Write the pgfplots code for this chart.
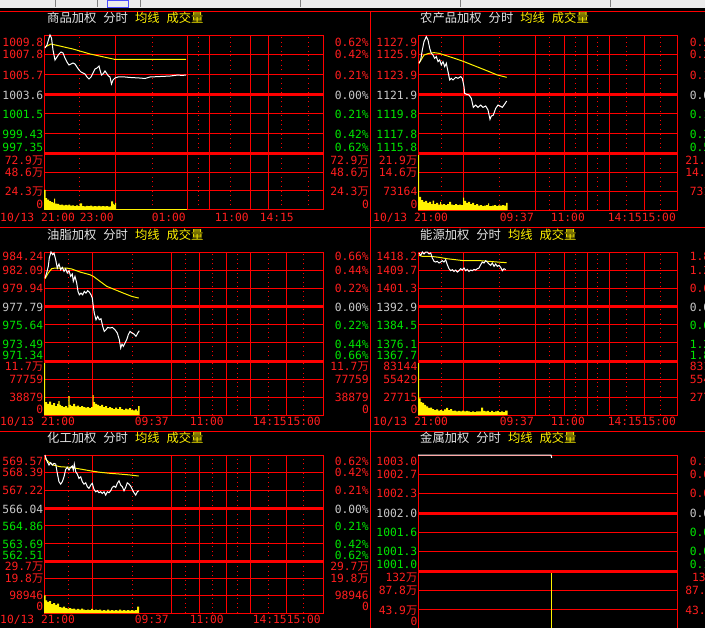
\documentclass[border=0pt]{standalone}
\usepackage{pgfplots}
\pgfplotsset{compat=1.18}
\usepackage{fontspec}
\setmainfont{DejaVu Sans Mono}
\newfontfamily\cjk{Noto Sans CJK SC}
\definecolor{gridred}{RGB}{255,0,0}
\definecolor{labred}{RGB}{255,30,30}
\definecolor{labgreen}{RGB}{0,230,0}
\definecolor{labgray}{RGB}{200,200,200}
\definecolor{titlegray}{RGB}{228,228,228}
\definecolor{tb}{RGB}{236,236,236}
\newcommand\wan{{\cjk 万}}
\pgfplotsset{
 base/.style={scale only axis, anchor=north west, clip=false,
   axis line style={gridred, line width=1bp},
   major tick length=0pt, minor tick length=0pt,
   xticklabels={}, yticklabels={}, extra y tick labels={},
   scaled x ticks=false, scaled y ticks=false,
   xmajorgrids, ymajorgrids, xminorgrids,
   major grid style={gridred, line width=1bp},
   minor grid style={gridred, line width=1bp, dash pattern=on 1bp off 3.6bp},
   extra y tick style={grid=major, major grid style={gridred, line width=3bp}}},
 L/.style={xmin=0, xmax=279, width=279bp},
 R/.style={xmin=0, xmax=259, width=259bp},
 gTL/.style={xtick={0,71,143,165,206,224,279}, minor xtick={35,108,154,186,237,264}},
 gML/.style={xtick={0,48,127,155,182,206,242,279}, minor xtick={24,88,141,168,193,224,259}},
 gR/.style={xtick={0,45,117,146,169,191,226,259}, minor xtick={23,81,131,157,179,208,242}},
 gBR/.style={xtick=\empty, minor xtick=\empty, xmajorgrids=false, xminorgrids=false},
 wline/.style={white, line width=1bp, mark=none},
 yline/.style={yellow, line width=1bp, mark=none},
 vol/.style={fill=yellow, draw=none, const plot mark left, mark=none},
}
\tikzset{lab/.style={inner sep=0pt, font=\fontsize{11.3bp}{13bp}\selectfont}}
\newcommand\lr[4]{\node[lab,anchor=base east,yshift=-4bp,text=#2] at (\XL bp,-#1bp) {#3};%
  \node[lab,anchor=base east,yshift=-4bp,text=#2] at (\XR bp,-#1bp) {#4};}
\newcommand\tl[3]{\node[lab,anchor=base east,yshift=-4bp,text=labred] at (#1bp,-#2bp) {#3};}
\newcommand\tw[3]{\node[lab,anchor=base west,yshift=-4bp,text=labred] at (#1bp,-#2bp) {#3};}
\newcommand\ttl[3]{\node[inner sep=0pt,anchor=base west,font=\cjk\fontsize{12.3bp}{14bp}\selectfont] at (#1bp,-#2bp)
  {\textcolor{titlegray}{#3}\hspace{7bp}\textcolor{titlegray}{分时}\hspace{7bp}\textcolor{yellow}{均线}\hspace{7bp}\textcolor{yellow}{成交量}};}
\begin{document}
\begin{tikzpicture}
\useasboundingbox (0,0) rectangle (705bp,-628bp);
\clip (0,0) rectangle (705bp,-628bp);
\fill[black] (0,0) rectangle (705bp,-628bp);
\fill[tb] (0,0) rectangle (705bp,-8bp);
\foreach \x in {55,97,140,300,460,610} \draw[gray] (\x bp,0) -- (\x bp,-7bp);
\draw[blue!70, line width=1bp] (107bp,-0.5bp) rectangle (128bp,-7bp);
\draw[gridred, line width=1bp] (0,-11.5bp) -- (705bp,-11.5bp);
\draw[gridred, line width=1bp] (0,-227bp) -- (705bp,-227bp);
\draw[gridred, line width=1bp] (0,-431bp) -- (705bp,-431bp);
\draw[gridred, line width=1bp] (370.5bp,-11.5bp) -- (370.5bp,-628bp);

% ===== volumes =====
\begin{axis}[base, L, gTL, at={(44bp,-153bp)}, height=57bp, ymin=0, ymax=729000, ytick={243000,486000}]
\addplot[vol] coordinates {(0,256000)(1.5,153000)(3,134000)(5,115000)(7,102000)(9,90000)(10,147000)(11,83000)(13,77000)(15,64000)(17,70000)(19,58000)(21,64000)(23,58000)(24.3,70000)(26,55000)(28,60000)(30,51000)(32,58000)(34,51000)(35.5,86000)(38,51000)(40,45000)(42,54000)(44,49000)(46,55000)(48,45000)(50,51000)(52,47000)(54,54000)(56,45000)(58,51000)(60,45000)(62,49000)(64,42000)(66,47000)(67,109000)(69,77000)(70,64000)(71,90000)(72,10000)(143,10000)(143,0)} \closedcycle;
\end{axis}
\begin{axis}[base, R, gR, at={(418bp,-153bp)}, height=57bp, ymin=0, ymax=219000, ytick={73000,146000}]
\addplot[vol] coordinates {(0,219000)(1,50000)(3,38000)(5,31000)(7,35000)(9,27000)(11,31000)(13,23000)(14.7,36000)(16,23000)(18,27000)(20,21000)(22,31000)(23,21000)(25,23000)(27,19000)(29,23000)(31,31000)(33,21000)(35,19000)(37,23000)(39,19000)(41,21000)(43,19000)(45,48000)(46,35000)(48,27000)(50,31000)(52,23000)(54,27000)(56,19000)(58,23000)(60,17000)(62,19000)(64,15000)(66,17000)(68,19000)(70,25000)(71,15000)(74,17000)(76,19000)(78,15000)(80,18000)(82,17000)(84,19000)(86,17000)(88,27000)(89.7,27000)(89.7,0)} \closedcycle;
\end{axis}
\begin{axis}[base, L, gML, at={(44bp,-361bp)}, height=54bp, ymin=0, ymax=117000, ytick={38879,77759}]
\addplot[vol] coordinates {(0,117000)(1,28000)(3,24000)(5,29000)(7,22000)(9,26000)(11,19500)(13,24000)(14.3,30000)(15.5,22000)(17,19500)(19,17000)(21,19500)(23,16000)(24.3,41000)(25.5,22000)(27,19500)(29,24000)(31,18500)(33,20500)(35,17000)(37,19500)(39,17000)(41,16000)(43,17000)(45,15000)(47,17000)(48.5,43000)(49.5,28000)(51,24000)(53,22000)(55,19500)(57,22000)(59,17000)(61,19500)(63,15000)(65,17000)(67,15000)(69,13000)(71,16000)(73,13000)(75,17000)(77,13000)(79,11000)(81,14000)(83,12000)(85,15000)(87,11000)(89,10000)(91,12000)(93,8700)(94,19500)(95.5,19500)(95.5,0)} \closedcycle;
\end{axis}
\begin{axis}[base, R, gR, at={(418bp,-361bp)}, height=54bp, ymin=0, ymax=83144, ytick={27715,55429}]
\addplot[vol] coordinates {(0,83144)(1,25700)(2.5,20000)(4,18500)(6,15400)(8,13100)(10,10800)(12,11500)(14,9200)(16,7700)(18,8500)(20,6900)(22,7700)(24,6200)(26,8500)(28,10800)(30,7700)(32,9200)(34,6200)(36,6900)(38,5400)(40,6200)(42,5400)(44,6900)(46,5400)(48,6200)(50,5400)(52,4600)(54,5400)(56,4600)(58,5400)(60,5400)(62,5400)(63,11500)(65,6200)(67,5400)(69,6200)(71,4600)(73,6200)(75,4600)(77,5400)(79,6200)(81,4600)(83,5400)(85,4600)(87,6900)(89.5,6900)(89.5,0)} \closedcycle;
\end{axis}
\begin{axis}[base, L, gML, at={(44bp,-561bp)}, height=52bp, ymin=0, ymax=297000, ytick={98946,198000}]
\addplot[vol] coordinates {(0,101000)(1.5,72500)(3,63000)(5,68500)(7,51000)(9,57000)(11,47000)(13,54000)(15,34000)(17,31000)(19,37000)(21,28500)(23,25700)(25,28500)(27,23000)(29,25700)(31,20000)(33,23000)(35,20000)(37,25700)(39,20000)(41,17000)(43,20000)(45,17000)(47,23000)(49,17000)(51,20000)(53,17000)(55,20000)(57,14300)(59,17000)(61,14300)(63,20000)(65,14300)(67,17000)(69,14300)(71,17000)(73,14300)(75,20000)(77,14300)(79,17000)(81,14300)(83,17000)(85,14300)(87,17000)(89,14300)(91,17000)(93,37000)(95,37000)(95,0)} \closedcycle;
\end{axis}
\begin{axis}[base, R, gBR, at={(418bp,-571bp)}, height=57bp, ymin=0, ymax=1320000, ytick={439000,878000}]
\addplot[yellow, line width=1bp, ycomb, mark=none] coordinates {(133.7,1320000)};
\end{axis}

% ===== prices =====
\begin{axis}[base, L, gTL, at={(44bp,-35bp)}, height=118bp, ymin=997.35, ymax=1009.8,
  ytick={999.425,1001.5,1005.65,1007.725}, extra y ticks={997.35,1003.575}]
\addplot[yline] coordinates {(1,1008.53)(7,1008.85)(29,1008.32)(46,1007.80)(69,1007.27)(71,1007.22)(142,1007.22)};
\addplot[wline] coordinates {(1,1008.43)(3,1008.75)(5,1009.48)(6,1009.8)(7.5,1009.48)(9,1008.22)(11,1007.16)(13,1007.48)(15,1007.80)(17,1008.01)(19,1007.90)(21,1007.37)(23,1006.95)(25,1006.63)(27,1006.74)(29,1006.85)(31,1006.74)(33,1006.42)(35,1006.11)(37,1005.90)(39,1005.79)(41,1005.69)(43,1005.37)(45,1005.16)(47,1005.37)(49,1005.79)(51,1006.21)(53,1006.32)(55,1006.53)(56,1006.11)(57.5,1005.58)(59,1005.69)(61,1006.00)(63,1005.69)(64.5,1005.47)(66,1005.37)(67.5,1004.63)(69,1005.05)(71,1005.26)(74,1005.37)(81,1005.37)(86,1005.32)(96,1005.26)(101,1005.21)(106,1005.37)(116,1005.42)(126,1005.47)(134,1005.58)(138,1005.53)(142,1005.58)};
\end{axis}
\begin{axis}[base, R, gR, at={(418bp,-35bp)}, height=118bp, ymin=1115.8, ymax=1127.9,
  ytick={1117.817,1119.833,1123.867,1125.883}, extra y ticks={1115.8,1121.85}]
\addplot[yline] coordinates {(1,1125.0)(6,1125.85)(11,1126.02)(16,1126.09)(21,1126.02)(29.3,1125.75)(39.3,1125.41)(46,1125.17)(54.3,1124.83)(62.7,1124.49)(71,1124.15)(79.3,1123.80)(88.7,1123.56)};
\addplot[wline] coordinates {(1,1125.0)(2.7,1125.34)(4.3,1126.36)(6,1127.22)(8.3,1127.73)(10,1127.39)(11.7,1126.54)(13.3,1126.02)(15,1125.85)(16.7,1125.51)(18.3,1125.68)(20,1125.17)(21.7,1125.34)(23.3,1124.83)(25,1125.17)(26.7,1124.66)(28.3,1125.0)(30,1124.15)(31.7,1123.29)(33.3,1123.46)(35,1123.29)(37.7,1123.56)(40,1123.46)(42.7,1123.63)(44.3,1123.46)(46,1122.61)(46.7,1121.92)(48.7,1121.82)(51,1121.75)(53.3,1121.41)(55.3,1120.48)(57.7,1120.72)(60,1120.48)(62.7,1120.72)(65,1120.48)(67.7,1120.62)(70,1120.21)(72,1119.25)(73.3,1119.59)(75.3,1119.69)(77.7,1120.38)(80,1120.72)(82,1120.62)(84.3,1120.48)(86.7,1120.82)(88.7,1121.13)};
\end{axis}
\begin{axis}[base, L, gML, at={(44bp,-252bp)}, height=109bp, ymin=971.34, ymax=984.24,
  ytick={973.49,975.64,979.94,982.09}, extra y ticks={971.34,977.79}]
\addplot[yline] coordinates {(1,981.08)(4.3,981.76)(7.7,982.27)(11,982.34)(16,982.34)(22.7,982.34)(27.7,982.23)(36,981.87)(46,981.55)(49.3,981.36)(56,980.77)(62.7,980.18)(71,979.78)(79.3,979.38)(87.7,978.99)(94.7,978.79)};
\addplot[wline] coordinates {(1,981.16)(2.7,981.76)(4.3,982.55)(5.3,983.53)(7,984.24)(8.7,983.92)(10,984.12)(11.7,983.33)(13.3,982.34)(15,982.82)(16.7,982.14)(18.3,982.42)(20,981.95)(21.7,982.26)(23.3,981.76)(25,982.03)(26.7,981.36)(28.3,981.64)(29.3,980.77)(31,981.36)(32.7,980.57)(34,979.58)(35.3,979.18)(37,979.38)(38.7,979.18)(40.3,979.58)(42,979.38)(43.7,979.66)(45.3,979.50)(47,979.18)(48.3,978.79)(49.3,977.80)(50.3,977.01)(52,976.22)(53.7,976.62)(55.3,976.22)(57,976.34)(58.7,975.44)(60.3,974.84)(62,975.04)(63.7,975.32)(66,975.24)(68.3,975.32)(71,975.04)(73.3,974.65)(75.3,973.86)(76.7,972.87)(78,973.34)(79.3,973.07)(81,973.46)(82.7,973.86)(84.3,974.45)(86,974.84)(88,974.65)(90,974.53)(92,974.26)(93.7,974.65)(95.3,974.92)};
\end{axis}
\begin{axis}[base, R, gR, at={(418bp,-252bp)}, height=109bp, ymin=1367.7, ymax=1418.2,
  ytick={1376.117,1384.533,1401.367,1409.783}, extra y ticks={1367.7,1392.95}]
\addplot[yline] coordinates {(1,1416.67)(4.3,1416.2)(12.7,1416.2)(21,1415.73)(29.3,1415.08)(37.7,1414.62)(46,1414.16)(54.3,1414.16)(62.7,1414.16)(71,1413.87)(79.3,1413.56)(88.7,1413.24)};
\addplot[wline] coordinates {(1,1417.74)(2.7,1416.67)(4.3,1418.2)(6,1417.27)(7.7,1418.2)(9.3,1418.2)(11,1417.27)(12.7,1417.74)(14.3,1415.42)(16,1413.88)(17.7,1413.56)(19.3,1413.88)(21,1413.1)(22.7,1413.56)(24.3,1414.16)(26,1413.56)(27.7,1414.63)(29.3,1412.31)(31,1410.46)(32.7,1409.53)(34.3,1409.99)(36,1409.22)(37.7,1409.84)(39.3,1408.91)(41,1409.53)(42.7,1410.46)(44.3,1409.84)(46,1410.79)(47.7,1409.53)(49.3,1410.16)(51,1409.22)(52.7,1409.84)(54.3,1409.53)(56,1410.16)(57.7,1409.84)(59.3,1410.46)(61,1410.79)(62.7,1412.31)(64.3,1413.56)(66,1413.1)(67.7,1414.16)(69.3,1413.56)(71,1412.63)(72.7,1412.02)(74.3,1413.1)(76,1411.56)(77.7,1412.63)(79.3,1411.56)(81,1412.02)(82.7,1411.1)(84.3,1409.53)(86,1410.46)(87.7,1409.99)};
\end{axis}
\begin{axis}[base, L, gML, at={(44bp,-455bp)}, height=106bp, ymin=562.51, ymax=569.57,
  ytick={563.687,564.863,567.217,568.393}, extra y ticks={562.51,566.04}]
\addplot[yline] coordinates {(1,569.35)(4.3,569.12)(9.3,568.90)(16,568.79)(26,568.75)(36,568.64)(46,568.52)(56,568.42)(66,568.35)(76,568.30)(86,568.24)(94.7,568.17)};
\addplot[wline] coordinates {(1,569.57)(2,569.35)(3.3,569.12)(5,568.90)(6.7,569.06)(8.3,568.90)(10,569.01)(11.7,568.97)(13.3,568.35)(15,567.79)(16.7,567.63)(18.3,567.79)(20,568.12)(21.7,568.61)(23.3,568.75)(25,568.57)(26.7,568.75)(28.3,568.84)(29.3,568.57)(30.3,568.97)(31.7,568.46)(33.3,568.30)(35,568.01)(36.7,568.12)(38.3,567.79)(40,567.63)(41.7,567.72)(43.3,567.46)(45,567.35)(46.7,567.57)(48.3,567.68)(50,567.28)(51.7,567.12)(53.3,567.19)(55,567.06)(56.7,567.12)(58.3,567.01)(60,567.12)(61.7,566.90)(63.3,567.12)(65,567.06)(66.7,567.19)(68.3,567.41)(70,567.50)(71.7,567.41)(73.3,567.68)(75,567.85)(76.7,567.57)(78.3,567.46)(80,567.19)(81.7,567.41)(83.3,567.72)(85,567.63)(86.7,567.50)(88.3,567.28)(90,567.06)(91.7,566.90)(93.3,567.12)(94.7,567.19)};
\end{axis}
\begin{axis}[base, R, gBR, at={(418bp,-455bp)}, height=116bp, ymin=1001.0, ymax=1003.0,
  ytick={1001.333,1001.667,1002.333,1002.667}, extra y ticks={1001.0,1002.0}]
\addplot[wline] coordinates {(0,1003.0)(133,1003.0)(133.7,1002.95)};
\end{axis}

% ===== titles =====
\ttl{47}{22.7}{商品加权}
\ttl{420}{22.7}{农产品加权}
\ttl{47}{239.7}{油脂加权}
\ttl{420}{239.7}{能源加权}
\ttl{47}{442.7}{化工加权}
\ttl{420}{442.7}{金属加权}

% ===== axis labels =====
\def\XL{43.5}\def\XR{369}
\lr{42}{labred}{1009.8}{0.62\%}
\lr{54}{labred}{1007.8}{0.42\%}
\lr{75}{labred}{1005.7}{0.21\%}
\lr{95}{labgray}{1003.6}{0.00\%}
\lr{114}{labgreen}{1001.5}{0.21\%}
\lr{134}{labgreen}{999.43}{0.42\%}
\lr{147}{labgreen}{997.35}{0.62\%}
\lr{160}{labred}{72.9\wan}{72.9\wan}
\lr{172}{labred}{48.6\wan}{48.6\wan}
\lr{191}{labred}{24.3\wan}{24.3\wan}
\lr{204}{labred}{0}{0}
\def\XL{417.5}\def\XR{724}
\lr{42}{labred}{1127.9}{0.54\%}
\lr{54}{labred}{1125.9}{0.36\%}
\lr{75}{labred}{1123.9}{0.18\%}
\lr{95}{labgray}{1121.9}{0.00\%}
\lr{114}{labgreen}{1119.8}{0.18\%}
\lr{134}{labgreen}{1117.8}{0.36\%}
\lr{147}{labgreen}{1115.8}{0.54\%}
\lr{160}{labred}{21.9\wan}{21.9\wan}
\lr{172}{labred}{14.6\wan}{14.6\wan}
\lr{191}{labred}{73164}{73164}
\lr{204}{labred}{0}{0}
\def\XL{43.5}\def\XR{369}
\lr{256.7}{labred}{984.24}{0.66\%}
\lr{270}{labred}{982.09}{0.44\%}
\lr{288}{labred}{979.94}{0.22\%}
\lr{307}{labgray}{977.79}{0.00\%}
\lr{325}{labgreen}{975.64}{0.22\%}
\lr{344}{labgreen}{973.49}{0.44\%}
\lr{355}{labgreen}{971.34}{0.66\%}
\lr{366.7}{labred}{11.7\wan}{11.7\wan}
\lr{379}{labred}{77759}{77759}
\lr{397}{labred}{38879}{38879}
\lr{409}{labred}{0}{0}
\def\XL{417.5}\def\XR{724}
\lr{256.7}{labred}{1418.2}{1.82\%}
\lr{270}{labred}{1409.7}{1.21\%}
\lr{288}{labred}{1401.3}{0.60\%}
\lr{307}{labgray}{1392.9}{0.00\%}
\lr{325}{labgreen}{1384.5}{0.60\%}
\lr{344}{labgreen}{1376.1}{1.21\%}
\lr{355}{labgreen}{1367.7}{1.82\%}
\lr{366.7}{labred}{83144}{83144}
\lr{379}{labred}{55429}{55429}
\lr{397}{labred}{27715}{27715}
\lr{409}{labred}{0}{0}
\def\XL{43.5}\def\XR{369}
\lr{461.7}{labred}{569.57}{0.62\%}
\lr{472.3}{labred}{568.39}{0.42\%}
\lr{490.7}{labred}{567.22}{0.21\%}
\lr{509}{labgray}{566.04}{0.00\%}
\lr{526}{labgreen}{564.86}{0.21\%}
\lr{544}{labgreen}{563.69}{0.42\%}
\lr{555}{labgreen}{562.51}{0.62\%}
\lr{566.7}{labred}{29.7\wan}{29.7\wan}
\lr{578.3}{labred}{19.8\wan}{19.8\wan}
\lr{595.7}{labred}{98946}{98946}
\lr{606.7}{labred}{0}{0}
\def\XL{417.5}\def\XR{724}
\lr{461.7}{labred}{1003.0}{0.10\%}
\lr{474}{labred}{1002.7}{0.07\%}
\lr{493}{labred}{1002.3}{0.03\%}
\lr{513.3}{labgray}{1002.0}{0.00\%}
\lr{532.3}{labgreen}{1001.6}{0.03\%}
\lr{551.7}{labgreen}{1001.3}{0.07\%}
\lr{564}{labgreen}{1001.0}{0.10\%}
\lr{577}{labred}{132\wan}{132\wan}
\lr{590.7}{labred}{87.8\wan}{87.8\wan}
\lr{610}{labred}{43.9\wan}{43.9\wan}
\lr{621}{labred}{0}{0}

% ===== time labels =====
\tw{0}{217.5}{10/13 21:00}
\tl{114}{217.5}{23:00}
\tl{186}{217.5}{01:00}
\tl{249}{217.5}{11:00}
\tl{294}{217.5}{14:15}
\tw{373}{217.5}{10/13 21:00}
\tl{534}{217.5}{09:37}
\tl{585}{217.5}{11:00}
\tl{676}{217.5}{14:1515:00}
\tw{0}{421}{10/13 21:00}
\tl{169}{421}{09:37}
\tl{224}{421}{11:00}
\tl{321}{421}{14:1515:00}
\tw{373}{421}{10/13 21:00}
\tl{534}{421}{09:37}
\tl{585}{421}{11:00}
\tl{676}{421}{14:1515:00}
\tw{0}{619}{10/13 21:00}
\tl{169}{619}{09:37}
\tl{224}{619}{11:00}
\tl{321}{619}{14:1515:00}
\end{tikzpicture}
\end{document}
